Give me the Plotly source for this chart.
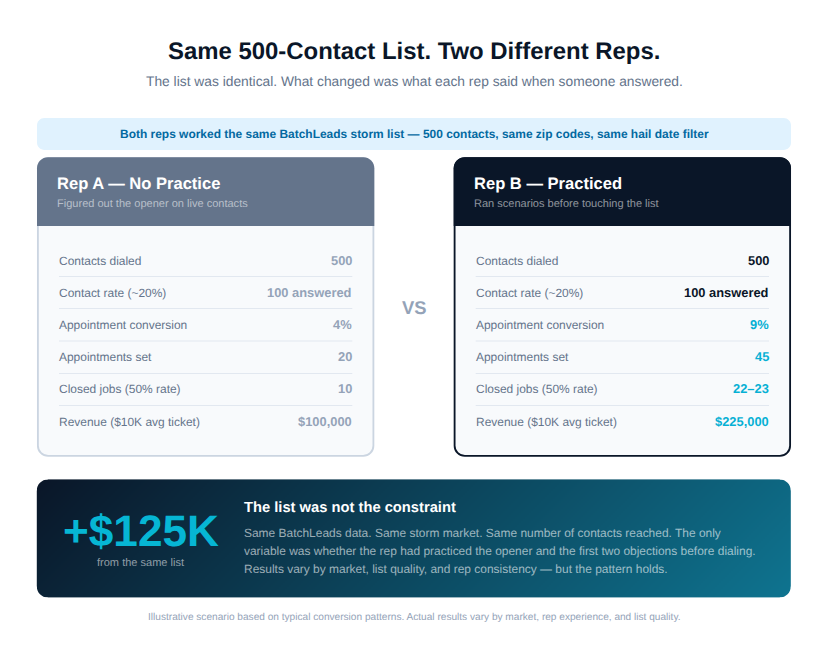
import numpy as np
import plotly.graph_objects as go

FONT = "Liberation Sans"
W, H = 828, 659

row_labels = ["Contacts dialed", "Contact rate (~20%)", "Appointment conversion",
              "Appointments set", "Closed jobs (50% rate)", "Revenue ($10K avg ticket)"]
rep_a_values = ["500", "100 answered", "4%", "20", "10", "$100,000"]
rep_b_values = ["500", "100 answered", "9%", "45", "22–23", "$225,000"]
rep_b_colors = ["#0a1628", "#0a1628", "#06b0d4", "#06b0d4", "#06b0d4", "#06b0d4"]
row_y = [261, 293, 325.3, 357.2, 389.2, 422]
sep_y = [276.5, 308.5, 341, 373.5, 405.5]

callout_lines = [
    "Same BatchLeads data. Same storm market. Same number of contacts reached. The only",
    "variable was whether the rep had practiced the opener and the first two objections before dialing.",
    "Results vary by market, list quality, and rep consistency — but the pattern holds.",
]
callout_line_y = [532.5, 551, 568.5]

K = 0.448  # control point offset that makes a cubic look like a quarter circle


def round_rect(x0, y0, x1, y1, r, r_bottom=None):
    rb = r if r_bottom is None else r_bottom
    c, cb = r * K, rb * K
    return (f"M{x0+r},{y0} L{x1-r},{y0} C{x1-c},{y0} {x1},{y0+c} {x1},{y0+r} "
            f"L{x1},{y1-rb} C{x1},{y1-cb} {x1-cb},{y1} {x1-rb},{y1} "
            f"L{x0+rb},{y1} C{x0+cb},{y1} {x0},{y1-cb} {x0},{y1-rb} "
            f"L{x0},{y0+r} C{x0},{y0+c} {x0+c},{y0} {x0+r},{y0} Z")


shapes = []
annotations = []


def box(path, fill, line=None, width=0):
    shapes.append(dict(type="path", path=path, xref="x", yref="y", fillcolor=fill,
                       line=dict(color=line or fill, width=width)))


def text(x, y, s, size, color, bold=False, anchor="left"):
    annotations.append(dict(x=x, y=y, xref="x", yref="y", text=f"<b>{s}</b>" if bold else s,
                            showarrow=False, xanchor=anchor, yanchor="middle", borderpad=0, borderwidth=0,
                            font=dict(family=FONT, size=size, color=color)))


def card(x0, border, head_fill, title, sub, values, colors):
    x1 = x0 + 337.3
    box(round_rect(x0 + 0.9, 158.2, x1 - 0.9, 455.9, 10.2), "#f8fafc", border, 1.84)
    box(round_rect(x0, 157.3, x1, 226, 11, 0), head_fill)
    text(x0 + 20, 183, title, 16.56, "#ffffff", bold=True)
    text(x0 + 20, 203, sub, 11.04, "rgba(255,255,255,0.55)")
    for yy in sep_y:
        shapes.append(dict(type="line", xref="x", yref="y", x0=x0 + 22, x1=x1 - 22, y0=yy, y1=yy,
                           line=dict(color="#e2e8f0", width=1)))
    for lab, val, col, yy in zip(row_labels, values, colors, row_y):
        text(x0 + 22, yy, lab, 11.96, "#64748b")
        text(x1 - 22.4, yy - 0.5, val, 12.88, col, bold=True, anchor="right")


# gradient of the callout band, 135deg
gx = np.arange(36.8, 792, 2)
gy = np.arange(479.4, 598.5, 2)
gz = [[(a - 37 + b - 480) / (754 + 118) for a in gx[:-1]] for b in gy[:-1]]
fig = go.Figure(go.Heatmap(x=gx, y=gy, z=gz, zmin=0, zmax=1, showscale=False, hoverinfo="skip",
                           colorscale=[[0, "#0a1628"], [1, "#0e7490"]]))

# white corners over the heatmap, reaching a pixel past its edge
r = 11
for cx, cy, sx, sy in [(36.8, 479.4, 1, 1), (790.8, 479.4, -1, 1), (36.8, 597.4, 1, -1), (790.8, 597.4, -1, -1)]:
    box(f"M{cx-sx},{cy-sy} L{cx+sx*r},{cy-sy} L{cx+sx*r},{cy} "
        f"C{cx+sx*r*K},{cy} {cx},{cy+sy*r*K} {cx},{cy+sy*r} L{cx-sx},{cy+sy*r} Z", "#ffffff")

box(round_rect(37, 118, 791, 150, 7.4), "#e0f2fe")
card(37, "#cbd5e1", "#64748b", "Rep A — No Practice", "Figured out the opener on live contacts",
     rep_a_values, ["#94a3b8"] * 6)
card(453.7, "#0a1628", "#0a1628", "Rep B — Practiced", "Ran scenarios before touching the list",
     rep_b_values, rep_b_colors)

text(414, 50.2, "Same 500-Contact List. Two Different Reps.", 23.92, "#0a1628", bold=True, anchor="center")
text(414, 81, "The list was identical. What changed was what each rep said when someone answered.",
     13.8, "#64748b", anchor="center")
text(414, 134, "Both reps worked the same BatchLeads storm list — 500 contacts, same zip codes, same hail date filter",
     11.96, "#0369a1", bold=True, anchor="center")
text(414, 307.3, "VS", 18.4, "#94a3b8", bold=True, anchor="center")
text(140.5, 530, "+$125K", 44.16, "#06b6d4", bold=True, anchor="center")
text(140.5, 562, "from the same list", 11.04, "rgba(255,255,255,0.55)", anchor="center")
text(244, 507.2, "The list was not the constraint", 14.72, "#ffffff", bold=True)
for line, yy in zip(callout_lines, callout_line_y):
    text(244, yy, line, 11.96, "rgba(255,255,255,0.6)")
text(414, 616.5, "Illustrative scenario based on typical conversion patterns. Actual results vary by market, rep experience, and list quality.",
     10.12, "#94a3b8", anchor="center")

fig.update_layout(
    width=W, height=H, margin=dict(l=0, r=0, t=0, b=0),
    paper_bgcolor="#ffffff", plot_bgcolor="#ffffff",
    xaxis=dict(range=[0, W], visible=False, fixedrange=True),
    yaxis=dict(range=[H, 0], visible=False, fixedrange=True),
    shapes=shapes, annotations=annotations, showlegend=False,
)
fig.write_html("out.html", config={"displayModeBar": False},
               post_script="document.body.style.margin='0';"
                           "var st=document.createElement('style');"
                           "st.textContent='svg text{text-rendering:geometricPrecision}';"
                           "document.head.appendChild(st);")
